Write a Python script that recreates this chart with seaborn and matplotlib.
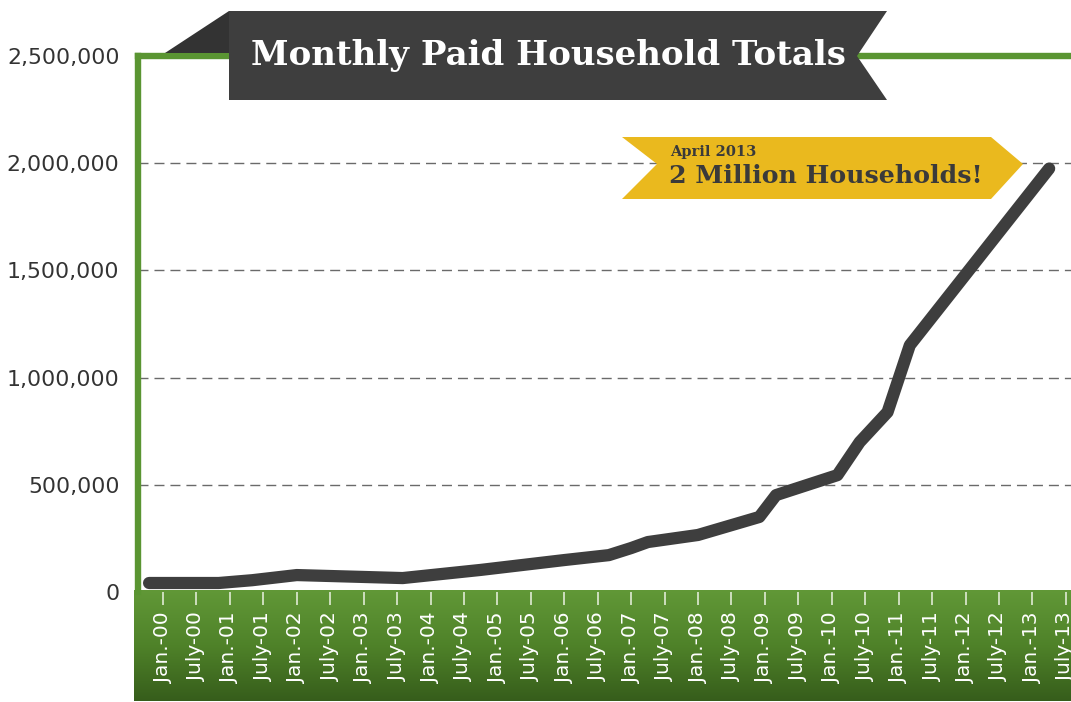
import numpy as np
import pandas as pd
import matplotlib
matplotlib.use("Agg")
import matplotlib.pyplot as plt
from matplotlib.patches import Polygon
from matplotlib.colors import LinearSegmentedColormap
import seaborn as sns

# ---- data (months since Jan 2000, paid households) ----
MONTHS = [-2.5, 10, 16, 24, 43, 57, 72, 80, 84, 87, 96, 107, 110, 121, 125, 130, 134, 159]
HOUSEHOLDS = [42000, 42000, 55000, 79000, 65000, 103000, 149000, 172000, 205000,
              233000, 266000, 350000, 452000, 545000, 699000, 839000, 1151000, 1975000]

TICK_MONTHS = list(range(0, 163, 6))
TICK_LABELS = ["Jan.-00", "July-00", "Jan.-01", "July-01", "Jan.-02", "July-02",
               "Jan.-03", "July-03", "Jan.-04", "July-04", "Jan.-05", "July-05",
               "Jan.-06", "July-06", "Jan.-07", "July-07", "Jan.-08", "July-08",
               "Jan.-09", "July-09", "Jan.-10", "July-10", "Jan.-11", "July-11",
               "Jan.-12", "July-12", "Jan.-13", "July-13"]
Y_TICKS = [0, 500000, 1000000, 1500000, 2000000, 2500000]
Y_LABELS = ["0", "500,000", "1,000,000", "1,500,000", "2,000,000", "2,500,000"]
GRID_VALUES = [500000, 1000000, 1500000, 2000000]

TITLE = "Monthly Paid Household Totals"
CALLOUT_SMALL = "April 2013"
CALLOUT_BIG = "2 Million Households!"

# ---- styling ----
W, H = 1071, 702
GREEN = "#5a9532"
DARK = "#3e3e3e"
YELLOW = "#eab91e"

sns.set_theme(style="white")
plt.rcParams["font.family"] = ["DejaVu Sans"]

fig = plt.figure(figsize=(W / 100, H / 100), dpi=100)
fig.patch.set_facecolor("white")

def fx(px):
    return px / W

def fy(py):
    return 1 - py / H

# green gradient band at bottom
band = fig.add_axes([fx(134), fy(701), fx(W - 134) + 0.01, (701 - 590) / H], zorder=1)
grad = np.linspace(0, 1, 256).reshape(-1, 1)
cmap = LinearSegmentedColormap.from_list("g", ["#619837", "#4f8229", "#365d1b"])
band.imshow(grad, aspect="auto", cmap=cmap, extent=[0, 1, 0, 1], origin="upper")
band.set_axis_off()

# main axes
left_px, right_px, top_px, bot_px = 137.5, W, 56, 592
ax = fig.add_axes([fx(left_px), fy(bot_px), fx(right_px - left_px) + 0.02, (bot_px - top_px) / H], zorder=2)
ax.patch.set_alpha(0)

df = pd.DataFrame({"month": MONTHS, "households": HOUSEHOLDS})
sns.lineplot(data=df, x="month", y="households", ax=ax, color=DARK, linewidth=8.8,
             solid_capstyle="round", solid_joinstyle="round", zorder=5)

px_per_6m = 33.44
x0 = -(163 - left_px) / px_per_6m * 6
x1 = (right_px + 0.02 * W - 163) / px_per_6m * 6
ax.set_xlim(x0, x1)
ax.set_ylim(0, 2500000)

ax.hlines(GRID_VALUES, x0, x1, colors="#6a6a6a", linestyles=(0, (7.2, 4.3)), linewidth=1.0, zorder=1)

ax.set_xticks(TICK_MONTHS)
ax.set_xticklabels(TICK_LABELS, rotation=90, color="white", fontsize=14.5, va="top")
ax.set_yticks(Y_TICKS)
ax.set_yticklabels(Y_LABELS, color="#333333", fontsize=15.8)
ax.tick_params(axis="x", direction="out", length=9.5, width=1.3, color="#d6e4c8", pad=5, bottom=True)
ax.tick_params(axis="y", length=0, pad=13)
ax.set_xlabel("")
ax.set_ylabel("")
ax.grid(False)

for s in ["right", "bottom"]:
    ax.spines[s].set_visible(False)
for s in ["left", "top"]:
    ax.spines[s].set_color(GREEN)
    ax.spines[s].set_linewidth(4.6)
    ax.spines[s].set_capstyle("projecting")

# overlay for banners (pixel coordinates)
ov = fig.add_axes([0, 0, 1, 1], zorder=10)
ov.set_xlim(0, W)
ov.set_ylim(H, 0)
ov.set_axis_off()
ov.patch.set_alpha(0)

# title banner fold
ov.add_patch(Polygon([(165, 53), (229, 11), (229, 53)], closed=True, facecolor="#333333", edgecolor="none"))
# title banner body with notched right end
ov.add_patch(Polygon([(229, 11), (887, 11), (857, 56), (887, 100), (229, 100)], closed=True,
                     facecolor=DARK, edgecolor="none"))
ov.text(548, 55, TITLE, color="white", fontsize=24.5, fontweight="bold", family="DejaVu Serif",
        ha="center", va="center")

# yellow callout
ov.add_patch(Polygon([(622, 137), (991, 137), (1023, 164), (991, 199), (622, 199), (657, 164)],
                     closed=True, facecolor=YELLOW, edgecolor="none"))
ov.text(670, 152, CALLOUT_SMALL, color="#3a3a3a", fontsize=10.5, fontweight="bold",
        family="DejaVu Serif", ha="left", va="center")
ov.text(669, 176, CALLOUT_BIG, color="#3a3a3a", fontsize=18.2, fontweight="bold",
        family="DejaVu Serif", ha="left", va="center")

fig.savefig("out.png", dpi=100, facecolor="white")
